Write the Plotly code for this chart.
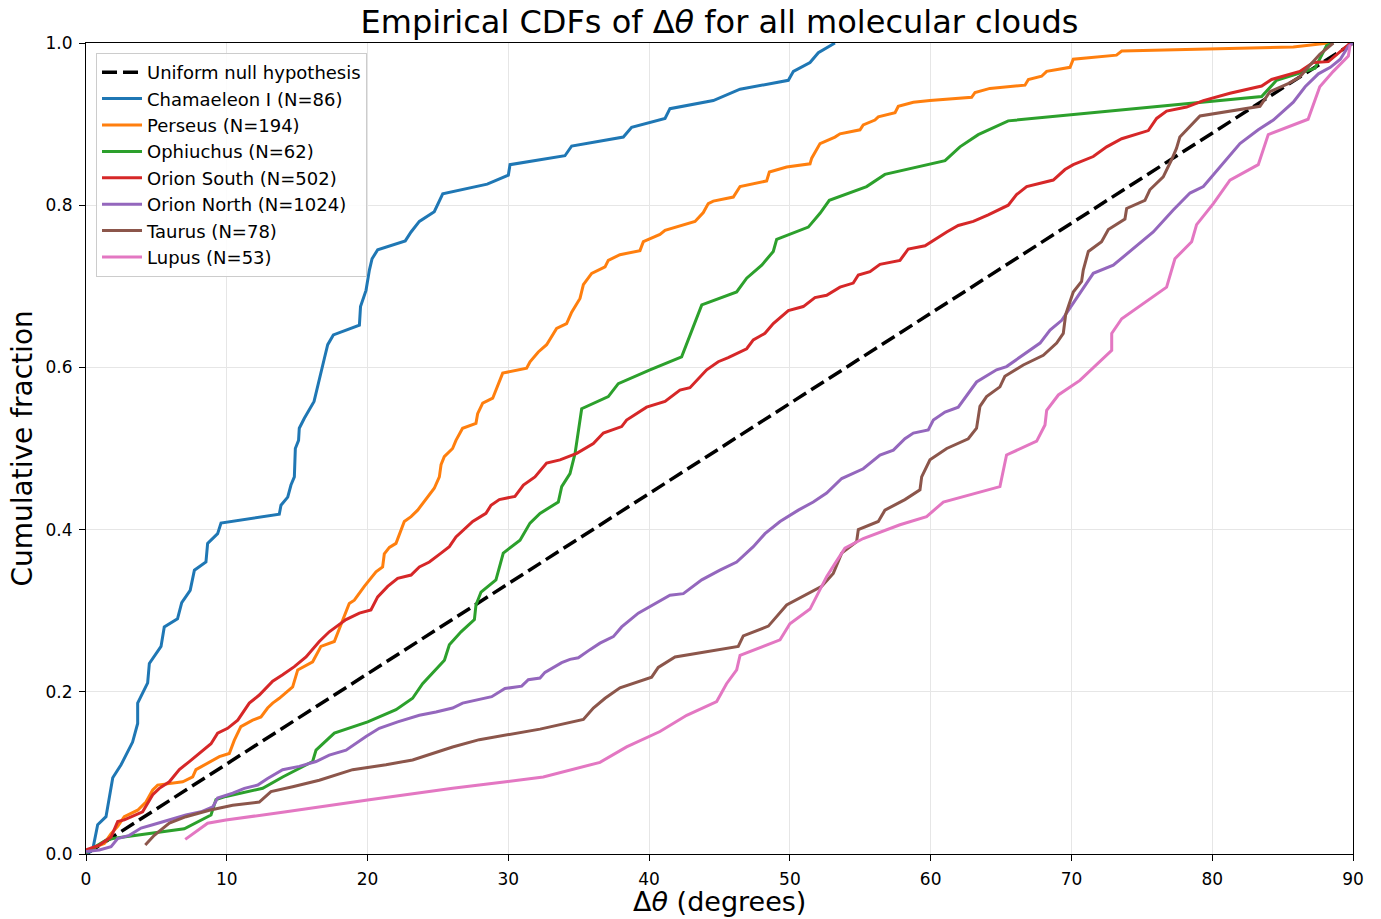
import plotly.graph_objects as go

# ---------------- data ----------------
uniform_x = [0, 90]
uniform_y = [0.0, 1.0]

chamaeleon_x = [0, 0.47, 0.83, 1.42, 1.9, 2.49, 3.31, 3.67, 3.67, 4.38, 4.5, 5.33, 5.56, 6.5, 6.8, 7.4, 7.7, 8.52, 8.64, 9.35, 9.59, 13.73, 13.85, 14.33, 14.56, 14.8, 14.87, 15.1, 15.15, 15.5, 16.2, 16.46, 16.7, 16.93, 17.17, 17.57, 19.42, 19.5, 19.89, 20.13, 20.32, 20.72, 22.68, 23.09, 23.68, 24.74, 25.34, 28.5, 30.0, 30.12, 34.02, 34.5, 38.17, 38.76, 41.13, 41.48, 44.56, 46.46, 49.89, 50.25, 51.43, 52.02, 53.2]
chamaeleon_y = [0.0, 0.005, 0.036, 0.046, 0.094, 0.11, 0.138, 0.161, 0.186, 0.211, 0.235, 0.256, 0.28, 0.29, 0.31, 0.325, 0.35, 0.36, 0.383, 0.395, 0.408, 0.419, 0.43, 0.44, 0.455, 0.465, 0.5, 0.51, 0.525, 0.537, 0.558, 0.578, 0.595, 0.611, 0.628, 0.64, 0.652, 0.675, 0.695, 0.72, 0.734, 0.745, 0.756, 0.767, 0.78, 0.792, 0.814, 0.826, 0.837, 0.85, 0.861, 0.873, 0.884, 0.896, 0.907, 0.919, 0.929, 0.943, 0.954, 0.965, 0.976, 0.988, 1.0]

perseus_x = [0, 0.71, 1.3, 1.78, 2.25, 2.72, 3.67, 4.26, 4.74, 5.09, 6.87, 7.58, 7.81, 9.47, 10.18, 10.53, 11.0, 11.84, 12.43, 12.9, 13.26, 13.73, 14.68, 15.04, 16.1, 16.69, 17.64, 18.11, 18.7, 19.06, 19.77, 20.6, 21.07, 21.19, 21.55, 22.02, 22.38, 22.61, 23.09, 23.56, 24.74, 25.1, 25.22, 25.45, 26.04, 26.28, 26.75, 27.7, 27.82, 28.18, 28.89, 29.12, 29.6, 31.3, 31.54, 32.13, 32.72, 33.43, 34.14, 34.5, 35.09, 35.33, 35.92, 36.87, 37.1, 37.93, 39.35, 39.59, 40.77, 41.13, 43.26, 43.85, 44.2, 44.56, 45.98, 46.46, 48.35, 48.54, 49.77, 51.43, 51.55, 52.14, 53.2, 53.56, 54.98, 55.21, 56.04, 56.28, 57.47, 57.7, 58.77, 59.95, 62.91, 63.15, 64.21, 66.7, 66.94, 67.88, 68.24, 69.9, 70.13, 73.2, 73.57, 85.76, 88.25]
perseus_y = [0.002, 0.009, 0.013, 0.025, 0.034, 0.046, 0.054, 0.064, 0.079, 0.085, 0.089, 0.095, 0.104, 0.12, 0.124, 0.14, 0.157, 0.165, 0.169, 0.18, 0.186, 0.192, 0.206, 0.227, 0.237, 0.256, 0.262, 0.282, 0.309, 0.313, 0.33, 0.348, 0.354, 0.37, 0.378, 0.383, 0.4, 0.41, 0.416, 0.424, 0.451, 0.465, 0.48, 0.49, 0.5, 0.51, 0.525, 0.531, 0.543, 0.556, 0.562, 0.572, 0.593, 0.599, 0.607, 0.619, 0.628, 0.648, 0.654, 0.668, 0.685, 0.702, 0.716, 0.724, 0.732, 0.739, 0.744, 0.755, 0.764, 0.769, 0.78, 0.791, 0.802, 0.805, 0.81, 0.823, 0.83, 0.841, 0.847, 0.851, 0.858, 0.876, 0.884, 0.888, 0.893, 0.899, 0.905, 0.909, 0.914, 0.922, 0.927, 0.929, 0.933, 0.939, 0.944, 0.948, 0.955, 0.959, 0.965, 0.97, 0.98, 0.985, 0.99, 0.995, 1.0]

ophiuchus_x = [0, 1.42, 1.9, 4.26, 6.98, 8.88, 9.23, 9.94, 12.55, 13.97, 15.15, 16.1, 16.34, 17.64, 20.01, 22.02, 23.2, 23.91, 25.46, 25.81, 26.64, 27.59, 27.7, 28.06, 29.12, 29.64, 30.83, 31.54, 32.25, 33.55, 33.79, 34.38, 34.74, 34.97, 35.21, 37.1, 37.81, 40.06, 42.31, 43.74, 46.22, 46.93, 48.0, 48.82, 49.06, 51.31, 52.14, 52.8, 55.45, 56.75, 61.02, 62.08, 63.38, 65.51, 83.51, 84.57, 87.3, 88.13, 88.6]
ophiuchus_y = [0.002, 0.017, 0.019, 0.025, 0.031, 0.048, 0.067, 0.071, 0.081, 0.095, 0.105, 0.114, 0.128, 0.149, 0.163, 0.178, 0.192, 0.21, 0.239, 0.258, 0.274, 0.289, 0.307, 0.323, 0.338, 0.371, 0.387, 0.408, 0.42, 0.434, 0.453, 0.469, 0.494, 0.519, 0.549, 0.564, 0.58, 0.597, 0.613, 0.677, 0.693, 0.71, 0.726, 0.743, 0.758, 0.773, 0.79, 0.806, 0.823, 0.838, 0.855, 0.872, 0.887, 0.904, 0.934, 0.954, 0.969, 0.997, 1.0]

orion_south_x = [0, 0.95, 1.78, 2.25, 2.72, 4.02, 4.74, 5.21, 5.92, 6.63, 7.34, 8.05, 8.88, 9.35, 10.06, 10.78, 11.6, 12.31, 13.26, 13.97, 14.8, 15.63, 16.57, 17.28, 18.47, 19.42, 20.24, 20.72, 21.43, 22.14, 23.09, 23.68, 24.39, 25.22, 25.81, 26.28, 26.87, 27.47, 28.41, 28.77, 29.36, 30.47, 31.07, 31.89, 32.72, 33.67, 34.86, 36.04, 36.75, 38.05, 38.4, 39.35, 39.82, 41.13, 42.19, 42.9, 44.09, 44.91, 45.62, 46.93, 47.4, 48.23, 48.82, 49.89, 50.95, 51.78, 52.61, 53.56, 54.5, 54.86, 55.69, 56.4, 57.82, 58.41, 59.6, 61.14, 61.96, 63.03, 64.09, 65.51, 66.1, 66.82, 68.71, 69.54, 70.13, 71.55, 72.5, 73.57, 74.39, 75.46, 76.05, 76.76, 78.18, 79.37, 81.26, 83.51, 84.22, 86.22, 87.18, 88.25, 89.55, 89.8]
orion_south_y = [0.005, 0.011, 0.021, 0.04, 0.042, 0.052, 0.073, 0.081, 0.089, 0.104, 0.114, 0.124, 0.136, 0.149, 0.155, 0.165, 0.186, 0.196, 0.213, 0.221, 0.231, 0.243, 0.262, 0.274, 0.289, 0.297, 0.301, 0.317, 0.33, 0.34, 0.344, 0.354, 0.36, 0.371, 0.379, 0.391, 0.401, 0.41, 0.42, 0.43, 0.437, 0.441, 0.455, 0.465, 0.482, 0.486, 0.494, 0.506, 0.519, 0.527, 0.535, 0.545, 0.551, 0.558, 0.572, 0.575, 0.597, 0.607, 0.612, 0.623, 0.634, 0.642, 0.654, 0.67, 0.675, 0.686, 0.689, 0.699, 0.704, 0.714, 0.718, 0.727, 0.732, 0.746, 0.75, 0.767, 0.775, 0.78, 0.788, 0.8, 0.813, 0.823, 0.831, 0.844, 0.85, 0.86, 0.872, 0.882, 0.886, 0.892, 0.907, 0.916, 0.921, 0.929, 0.938, 0.947, 0.955, 0.965, 0.976, 0.977, 0.996, 1.0]

orion_north_x = [0, 0.95, 1.78, 2.25, 3.08, 3.91, 4.74, 5.92, 7.1, 8.17, 9.0, 9.35, 10.42, 11.25, 12.2, 12.9, 13.97, 15.15, 16.34, 17.28, 18.47, 19.89, 20.83, 22.14, 23.68, 24.86, 26.04, 26.75, 28.82, 29.76, 30.95, 31.42, 32.25, 32.6, 33.79, 34.38, 34.97, 35.8, 36.51, 37.46, 38.05, 39.23, 40.3, 41.48, 42.43, 43.14, 43.74, 45.03, 46.22, 47.4, 48.23, 49.3, 50.6, 51.66, 52.61, 53.68, 55.21, 56.4, 57.35, 58.17, 58.77, 59.83, 60.19, 61.02, 61.96, 63.26, 64.68, 65.39, 66.82, 67.77, 68.48, 69.31, 70.27, 71.55, 72.97, 74.39, 75.81, 77.23, 78.42, 79.37, 80.55, 81.97, 83.27, 84.34, 85.76, 86.6, 87.54, 88.39, 89.1, 89.67, 90.0]
orion_north_y = [0.003, 0.005, 0.009, 0.019, 0.023, 0.032, 0.036, 0.042, 0.048, 0.052, 0.058, 0.069, 0.075, 0.081, 0.085, 0.093, 0.104, 0.108, 0.114, 0.122, 0.128, 0.145, 0.155, 0.163, 0.171, 0.175, 0.18, 0.186, 0.194, 0.204, 0.207, 0.215, 0.217, 0.224, 0.236, 0.24, 0.242, 0.252, 0.26, 0.268, 0.28, 0.297, 0.307, 0.319, 0.321, 0.33, 0.338, 0.35, 0.36, 0.379, 0.395, 0.41, 0.424, 0.434, 0.445, 0.463, 0.475, 0.492, 0.498, 0.512, 0.519, 0.523, 0.535, 0.545, 0.551, 0.582, 0.597, 0.601, 0.619, 0.63, 0.646, 0.658, 0.683, 0.716, 0.726, 0.747, 0.767, 0.794, 0.815, 0.823, 0.847, 0.876, 0.893, 0.905, 0.927, 0.946, 0.962, 0.97, 0.98, 0.996, 1.0]

taurus_x = [4.21, 4.85, 5.92, 7.1, 8.76, 10.42, 12.31, 13.14, 14.68, 16.57, 18.94, 21.31, 23.2, 26.04, 27.94, 32.25, 35.33, 36.04, 36.87, 37.93, 40.18, 40.65, 41.84, 46.33, 46.69, 48.47, 49.77, 52.26, 53.08, 53.68, 54.74, 54.86, 56.28, 56.75, 58.17, 59.24, 59.36, 59.95, 61.14, 62.67, 63.26, 63.5, 63.97, 64.92, 65.27, 66.58, 68.0, 68.95, 69.42, 69.59, 69.78, 70.13, 70.72, 70.84, 71.2, 72.14, 72.62, 73.8, 73.92, 75.22, 75.57, 76.52, 77.11, 77.46, 77.7, 78.42, 79.13, 83.39, 84.1, 85.4, 86.22, 86.81, 87.64, 88.6]
taurus_y = [0.011, 0.023, 0.038, 0.046, 0.054, 0.06, 0.064, 0.077, 0.083, 0.091, 0.104, 0.11, 0.116, 0.132, 0.141, 0.154, 0.166, 0.18, 0.192, 0.205, 0.218, 0.23, 0.243, 0.256, 0.269, 0.281, 0.307, 0.33, 0.346, 0.371, 0.385, 0.4, 0.41, 0.424, 0.437, 0.449, 0.465, 0.486, 0.5, 0.512, 0.525, 0.552, 0.564, 0.576, 0.589, 0.603, 0.615, 0.63, 0.642, 0.665, 0.675, 0.693, 0.706, 0.72, 0.743, 0.755, 0.77, 0.783, 0.796, 0.806, 0.819, 0.835, 0.856, 0.87, 0.884, 0.897, 0.91, 0.922, 0.94, 0.95, 0.958, 0.97, 0.986, 1.0]

lupus_x = [7.05, 8.64, 9.94, 14.21, 20.13, 26.04, 29.83, 32.48, 36.51, 38.4, 40.77, 42.67, 44.8, 45.5, 46.22, 46.46, 49.3, 50.0, 51.43, 52.61, 53.2, 53.91, 55.21, 56.4, 57.82, 59.71, 60.9, 64.92, 65.39, 67.53, 68.12, 68.24, 69.07, 70.6, 72.86, 72.86, 73.57, 76.76, 77.35, 78.54, 78.89, 80.08, 81.26, 83.27, 83.98, 86.81, 87.18, 87.64, 88.6, 89.67, 89.8]
lupus_y = [0.018, 0.038, 0.042, 0.052, 0.067, 0.081, 0.089, 0.095, 0.113, 0.132, 0.151, 0.171, 0.188, 0.21, 0.227, 0.245, 0.264, 0.284, 0.302, 0.342, 0.358, 0.377, 0.389, 0.397, 0.406, 0.416, 0.434, 0.453, 0.492, 0.509, 0.529, 0.547, 0.566, 0.584, 0.621, 0.642, 0.66, 0.699, 0.734, 0.755, 0.776, 0.802, 0.831, 0.85, 0.887, 0.906, 0.925, 0.946, 0.965, 0.984, 0.998]

series_names = ["Chamaeleon I (N=86)", "Perseus (N=194)", "Ophiuchus (N=62)",
                "Orion South (N=502)", "Orion North (N=1024)", "Taurus (N=78)", "Lupus (N=53)"]
series_x = [chamaeleon_x, perseus_x, ophiuchus_x, orion_south_x, orion_north_x, taurus_x, lupus_x]
series_y = [chamaeleon_y, perseus_y, ophiuchus_y, orion_south_y, orion_north_y, taurus_y, lupus_y]
colors = ["#1f77b4", "#ff7f0e", "#2ca02c", "#d62728", "#9467bd", "#8c564b", "#e377c2"]

x_ticks = [0, 10, 20, 30, 40, 50, 60, 70, 80, 90]
y_ticks = [0.0, 0.2, 0.4, 0.6, 0.8, 1.0]

FONT = "DejaVu Sans"

fig = go.Figure()
fig.add_trace(go.Scatter(x=uniform_x, y=uniform_y, mode="lines", name="Uniform null hypothesis",
                         line=dict(color="black", width=3.5, dash="15px,6px"), legendgroup="u"))
for i, (nm, xs, ys, c) in enumerate(zip(series_names, series_x, series_y, colors)):
    fig.add_trace(go.Scatter(x=xs, y=ys, mode="lines", name=nm,
                             line=dict(color=c, width=3), legendgroup=f"g{i}"))

axis_common = dict(showline=True, linecolor="black", linewidth=1.2, mirror=True,
                   ticks="outside", ticklen=6, tickwidth=1.2, tickcolor="black",
                   ticklabelstandoff=3, automargin=False,
                   showgrid=True, gridcolor="#e6e6e6", gridwidth=1, zeroline=False,
                   tickfont=dict(family=FONT, size=17, color="black"))

fig.update_layout(
    width=1381, height=919,
    margin=dict(l=86, r=28, t=43, b=65),
    paper_bgcolor="white", plot_bgcolor="white",
    font=dict(family=FONT, color="black"),
    title=dict(text="Empirical CDFs of Δ<i>θ</i> for all molecular clouds",
               x=0.5, xref="paper", xanchor="center", y=1 - 22 / 919, yanchor="middle",
               font=dict(family=FONT, size=32, color="black")),
    xaxis=dict(range=[0, 90], tickvals=x_ticks, ticktext=[str(v) for v in x_ticks], **axis_common),
    yaxis=dict(range=[0, 1], tickvals=y_ticks, ticktext=[f"{v:.1f}" for v in y_ticks], **axis_common),
    annotations=[
        dict(text="Δ<i>θ</i> (degrees)", xref="paper", yref="paper", x=0.5, y=(854 - 902) / 811,
             xanchor="center", yanchor="middle", showarrow=False,
             font=dict(family=FONT, size=27, color="black")),
        dict(text="Cumulative fraction", xref="paper", yref="paper", x=(22 - 86) / 1267, y=0.5,
             xanchor="center", yanchor="middle", textangle=-90, showarrow=False,
             font=dict(family=FONT, size=28, color="black")),
    ],
    showlegend=True,
    legend=dict(x=0.0079, y=0.9877, xanchor="left", yanchor="top",
                bgcolor="rgba(255,255,255,0.85)", bordercolor="#cccccc", borderwidth=1,
                font=dict(family=FONT, size=18, color="black"),
                traceorder="grouped", tracegroupgap=0, itemwidth=40),
)

fig.write_html("out.html", config={"displayModeBar": False},
               post_script="document.body.style.margin='0';document.body.style.overflow='hidden';")
